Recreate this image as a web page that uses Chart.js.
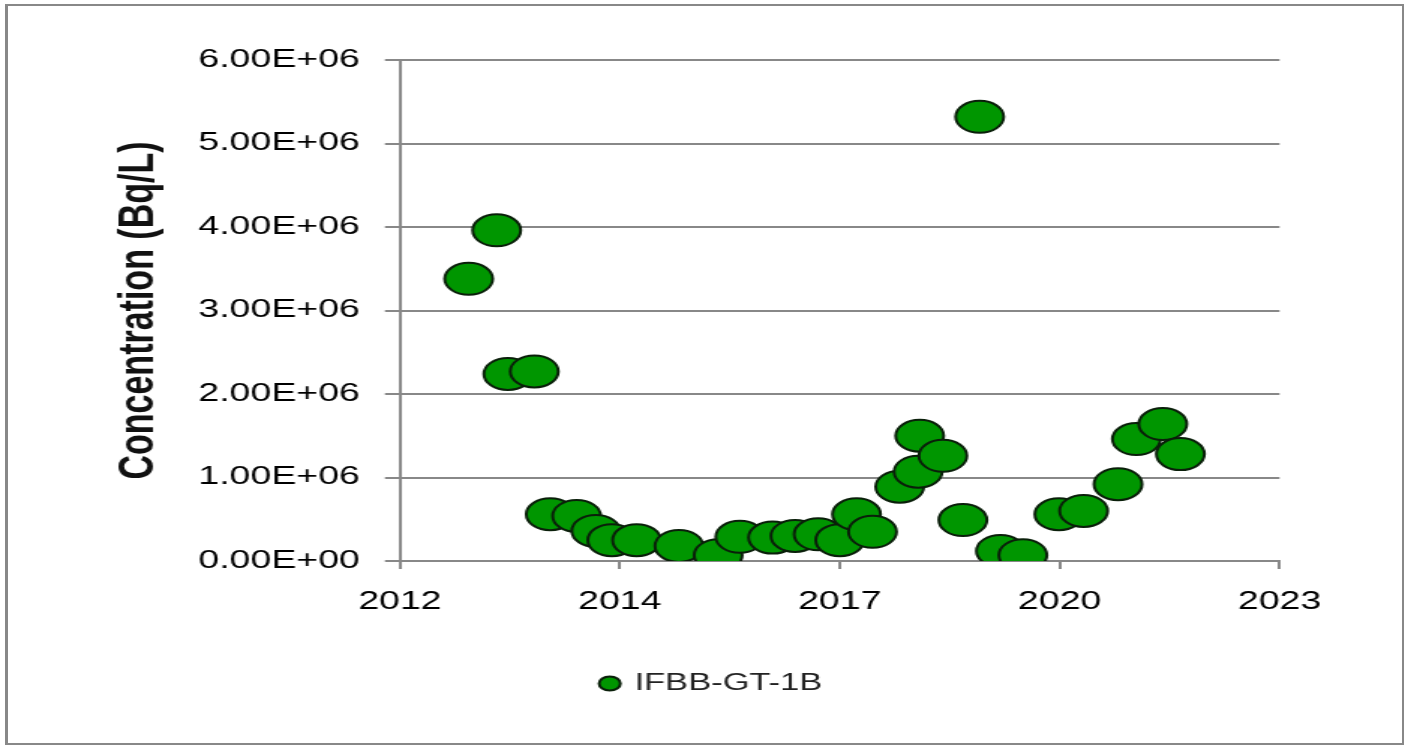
<!DOCTYPE html>
<html>
<head>
<meta charset="utf-8">
<script src="https://cdn.jsdelivr.net/npm/chart.js@4.4.1/dist/chart.umd.min.js"></script>
<style>
html, body { margin: 0; padding: 0; background: #fff; overflow: hidden; }
/* the reference picture is stretched sideways, so the chart is drawn narrow and widened */
#stretch { position: absolute; left: 0; top: 0; width: 937px; height: 745px; transform: scaleX(1.4995); transform-origin: 0 0; }
#frame { position: absolute; left: 5px; top: 4px; width: 1394px; height: 737px; border: 2px solid #888; border-left-width: 3px; pointer-events: none; }
</style>
</head>
<body>
<div id="stretch"><canvas id="scatter_GT1B" width="937" height="745"></canvas></div>
<div id="frame"></div>
<script>
const seriesName = "IFBB-GT-1B";

// decimal year of each sample
const sampleYears = [
    2012.86, 2013.21, 2013.35, 2013.68, 2013.88, 2014.21, 2014.45, 2014.65,
    2014.96, 2015.49, 2015.98, 2016.25, 2016.66, 2016.94, 2017.23, 2017.50,
    2017.71, 2017.91, 2018.25, 2018.48, 2018.50, 2018.79, 2019.04, 2019.25,
    2019.51, 2019.79, 2020.24, 2020.55, 2020.98, 2021.21, 2021.54, 2021.76
];

// concentration, Bq/L
const concentrations = [
    3.38e6, 3.96e6, 2.24e6, 2.27e6, 0.56e6, 0.54e6, 0.36e6, 0.25e6,
    0.25e6, 0.18e6, 0.07e6, 0.29e6, 0.28e6, 0.30e6, 0.32e6, 0.25e6,
    0.56e6, 0.35e6, 0.89e6, 1.07e6, 1.50e6, 1.26e6, 0.49e6, 5.32e6,
    0.12e6, 0.07e6, 0.56e6, 0.60e6, 0.92e6, 1.46e6, 1.64e6, 1.28e6
];

const xTickValues = [2012, 2014.75, 2017.5, 2020.25, 2023];
const xTickLabels = ["2012", "2014", "2017", "2020", "2023"];

const fontFamily = "'Liberation Sans', Arial, sans-serif";

function sciLabel(v) {
    const parts = Number(v).toExponential(2).split("e");
    const exp = parseInt(parts[1], 10);
    const sign = exp < 0 ? "-" : "+";
    return parts[0] + "E" + sign + String(Math.abs(exp)).padStart(2, "0");
}

const points_GT1B = sampleYears.map((yr, i) => ({ x: yr, y: concentrations[i] }));

const config_GT1B = {
    type: "scatter",
    data: {
        datasets: [
            {
                label: seriesName,
                data: points_GT1B,
                pointStyle: "circle",
                pointRadius: 16,
                pointHoverRadius: 16,
                backgroundColor: "#009600",
                borderColor: "#0a1f0a",
                borderWidth: 2
            }
        ]
    },
    options: {
        responsive: false,
        devicePixelRatio: 1,
        animation: false,
        layout: { padding: { left: 13, right: 0, top: 60, bottom: 40 } },
        scales: {
            x: {
                type: "linear",
                min: 2012,
                max: 2023,
                afterBuildTicks: (scale) => { scale.ticks = xTickValues.map(v => ({ value: v })); },
                afterFit: (scale) => { scale.height = 101; },
                ticks: {
                    callback: (v, i) => xTickLabels[i],
                    font: { size: 25, family: fontFamily },
                    color: "#000",
                    padding: 18,
                    maxRotation: 0
                },
                grid: { drawOnChartArea: false, drawTicks: true, tickLength: 8, color: "#888", lineWidth: 2 },
                border: { display: true, color: "#888", width: 2 }
            },
            y: {
                min: 0,
                max: 6e6,
                afterFit: (scale) => { scale.width = 253.7; },
                ticks: {
                    stepSize: 1e6,
                    callback: (v) => sciLabel(v),
                    font: { size: 25, family: fontFamily },
                    color: "#000",
                    padding: 16.7
                },
                grid: { color: "#888", lineWidth: 2, tickLength: 10 },
                border: { display: true, color: "#888", width: 2 },
                title: {
                    display: true,
                    text: "Concentration (Bq/L)",
                    font: { size: 34, weight: "bold", family: fontFamily },
                    color: "#111",
                    padding: { top: 59.6, bottom: 0 }
                }
            },
            // empty right axis, only keeps room on the right of the plot
            yRight: {
                type: "linear",
                position: "right",
                display: true,
                afterFit: (scale) => { scale.width = 83.7; },
                ticks: { display: false },
                grid: { display: false },
                border: { display: false }
            }
        },
        plugins: {
            legend: {
                position: "bottom",
                labels: {
                    usePointStyle: true,
                    boxWidth: 10,
                    boxHeight: 10,
                    padding: 10,
                    font: { size: 23, family: fontFamily },
                    color: "#222"
                }
            },
            tooltip: { enabled: false }
        }
    }
};

const ctx_GT1B = document.getElementById("scatter_GT1B").getContext("2d");
const myChart_GT1B = new Chart(ctx_GT1B, config_GT1B);
</script>
</body>
</html>
